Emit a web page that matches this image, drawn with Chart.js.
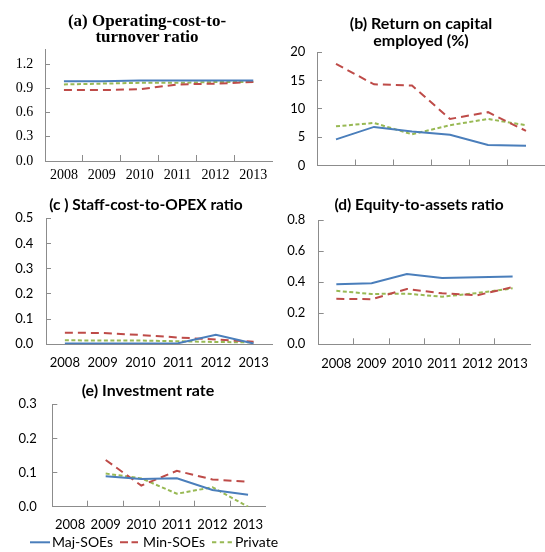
<!DOCTYPE html>
<html>
<head>
<meta charset="utf-8">
<script src="https://cdn.jsdelivr.net/npm/chart.js@4.4.0/dist/chart.umd.min.js"></script>
<style>
  body { margin: 0; width: 545px; height: 552px; background: #fff; position: relative; overflow: hidden; }
  canvas { position: absolute; }
  .title { position: absolute; text-align: center; font-weight: bold; color: #000; white-space: nowrap; }
  .sans { font-family: Lato, 'Liberation Sans', sans-serif; font-size: 16px; line-height: 17px; }
  .serif { font-family: 'Liberation Serif', serif; font-size: 17px; line-height: 16px; }
  #legend { position: absolute; left: 0; top: 525px; }
</style>
</head>
<body>
<canvas id="chartA" width="280" height="190" style="left:0;top:0"></canvas>
<canvas id="chartB" width="273" height="190" style="left:272px;top:0"></canvas>
<canvas id="chartC" width="280" height="190" style="left:0;top:185px"></canvas>
<canvas id="chartD" width="273" height="190" style="left:272px;top:185px"></canvas>
<canvas id="chartE" width="280" height="182" style="left:0;top:370px"></canvas>

<div class="title serif" style="left:47px;top:13px;width:200px">(a) Operating-cost-to-<br>turnover ratio</div>
<div class="title sans" style="left:321px;top:14px;width:200px">(b) Return on capital<br>employed (%)</div>
<div class="title sans" style="left:26px;top:196px;width:240px;font-size:15.5px">(c ) Staff-cost-to-OPEX ratio</div>
<div class="title sans" style="left:299px;top:196px;width:240px;font-size:15.5px">(d) Equity-to-assets ratio</div>
<div class="title sans" style="left:48px;top:381px;width:200px">(e) Investment rate</div>

<svg id="legend" width="300" height="27">
  <line x1="30" y1="17.3" x2="50" y2="17.3" stroke="#4a7ebb" stroke-width="2"/>
  <text x="52" y="22" font-family="Lato, 'Liberation Sans', sans-serif" font-size="14">Maj-SOEs</text>
  <line x1="120" y1="17.3" x2="138" y2="17.3" stroke="#be4b48" stroke-width="2" stroke-dasharray="8,3.5"/>
  <text x="143" y="22" font-family="Lato, 'Liberation Sans', sans-serif" font-size="14">Min-SOEs</text>
  <line x1="212" y1="17.3" x2="233" y2="17.3" stroke="#98b954" stroke-width="2" stroke-dasharray="4.3,3.5"/>
  <text x="235" y="22" font-family="Lato, 'Liberation Sans', sans-serif" font-size="14">Private</text>
</svg>

<script>
// Categories and series names
const years = ['2008', '2009', '2010', '2011', '2012', '2013'];
const seriesNames = ['Maj-SOEs', 'Min-SOEs', 'Private'];

// (a) Operating-cost-to-turnover ratio
const opCostMaj = [0.99, 0.99, 1.0, 1.0, 1.0, 1.0];
const opCostMin = [0.88, 0.88, 0.89, 0.95, 0.96, 0.98];
const opCostPriv = [0.95, 0.96, 0.97, 0.97, 0.98, 0.98];
const opCostTicks = [0, 0.3, 0.6, 0.9, 1.2];

// (b) Return on capital employed (%)
const roceMaj = [4.6, 6.8, 6.0, 5.4, 3.6, 3.5];
const roceMin = [17.9, 14.3, 14.1, 8.2, 9.4, 6.1];
const rocePriv = [6.9, 7.5, 5.5, 7.1, 8.2, 7.1];
const roceTicks = [0, 5, 10, 15, 20];

// (c) Staff-cost-to-OPEX ratio
const staffMaj = [0.003, 0.003, 0.003, 0.004, 0.038, 0.003];
const staffMin = [0.046, 0.045, 0.037, 0.027, 0.019, 0.010];
const staffPriv = [0.016, 0.015, 0.015, 0.012, 0.009, 0.008];
const staffTicks = [0, 0.1, 0.2, 0.3, 0.4, 0.5];

// (d) Equity-to-assets ratio
const equityMaj = [0.386, 0.393, 0.452, 0.427, 0.432, 0.436];
const equityMin = [0.293, 0.290, 0.356, 0.328, 0.316, 0.368];
const equityPriv = [0.344, 0.324, 0.326, 0.306, 0.330, 0.360];
const equityTicks = [0, 0.2, 0.4, 0.6, 0.8];

// (e) Investment rate (no data for 2008)
const investMaj = [null, 0.089, 0.081, 0.083, 0.049, 0.035];
const investMin = [null, 0.137, 0.062, 0.105, 0.080, 0.073];
const investPriv = [null, 0.097, 0.083, 0.038, 0.057, 0.0];
const investTicks = [0, 0.1, 0.2, 0.3];

// Line styles
const lineColors = ['#4a7ebb', '#be4b48', '#98b954'];
const lineDashes = [[], [8, 5], [4, 2.5]];
const axisColor = '#8c8c8c';
const sansFont = 'Lato, "Liberation Sans", sans-serif';
const serifFont = '"Liberation Serif", serif';

function makeChart(id, series, opt) {
    const ctx = document.getElementById(id).getContext('2d');
    const font = { family: opt.serif ? serifFont : sansFont, size: opt.serif ? 14 : 13 };
    return new Chart(ctx, {
        type: 'line',
        data: {
            labels: years,
            datasets: series.map((d, i) => ({
                label: seriesNames[i],
                data: d,
                borderColor: lineColors[i],
                borderWidth: 2,
                borderDash: lineDashes[i],
                pointRadius: 0,
                tension: 0,
                fill: false
            }))
        },
        options: {
            responsive: false,
            animation: false,
            layout: { padding: { top: opt.top, right: opt.right, left: 0, bottom: 0 } },
            plugins: { legend: { display: false }, tooltip: { enabled: false } },
            scales: {
                x: {
                    offset: true,
                    grid: {
                        offset: true,
                        drawOnChartArea: false,
                        drawTicks: opt.xTicks,
                        tickLength: -6,
                        // only the inner category boundaries get a tick mark
                        color: c => (c.index > 0 && c.index < years.length) ? axisColor : 'rgba(0,0,0,0)'
                    },
                    border: { color: axisColor },
                    ticks: {
                        display: opt.xLabels,
                        font: font,
                        color: '#000',
                        padding: opt.xPad,
                        maxRotation: 0,
                        autoSkip: false
                    },
                    afterFit: s => { s.height = opt.xh; }
                },
                y: {
                    min: 0,
                    max: opt.max,
                    grid: { drawOnChartArea: false, tickLength: -5, color: axisColor },
                    border: { color: axisColor },
                    ticks: {
                        font: font,
                        color: '#000',
                        padding: opt.yPad,
                        callback: v => v.toFixed(opt.dec)
                    },
                    afterBuildTicks: s => { s.ticks = opt.ticks.map(v => ({ value: v })); },
                    afterFit: s => { s.width = opt.left; }
                }
            }
        }
    });
}

makeChart('chartA', [opCostMaj, opCostMin, opCostPriv],
    { serif: true, top: 49, right: 5, left: 45, xh: 29, max: 1.39, ticks: opCostTicks, dec: 1,
      xTicks: true, xLabels: true, xPad: 12.3, yPad: 16.7 });

makeChart('chartB', [roceMaj, roceMin, rocePriv],
    { top: 52, right: 0, left: 45, xh: 14, max: 20, ticks: roceTicks, dec: 0,
      xTicks: true, xLabels: false, xPad: 0, yPad: 16.7 });

makeChart('chartC', [staffMaj, staffMin, staffPriv],
    { top: 33.3, right: 4, left: 46, xh: 30.7, max: 0.5, ticks: staffTicks, dec: 1,
      xTicks: false, xLabels: true, xPad: 11, yPad: 17.7 });

makeChart('chartD', [equityMaj, equityMin, equityPriv],
    { top: 35, right: 0, left: 46.7, xh: 30.7, max: 0.8, ticks: equityTicks, dec: 1,
      xTicks: true, xLabels: true, xPad: 17.3, yPad: 18.4 });

makeChart('chartE', [investMaj, investMin, investPriv],
    { top: 34.3, right: 3.4, left: 52.3, xh: 45.3, max: 0.3, ticks: investTicks, dec: 1,
      xTicks: true, xLabels: true, xPad: 16.6, yPad: 20.6 });
</script>
</body>
</html>
